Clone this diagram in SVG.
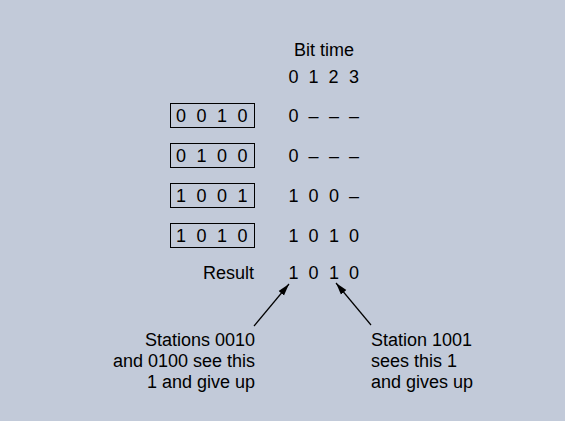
<svg xmlns="http://www.w3.org/2000/svg" width="565" height="421" viewBox="0 0 565 421">
<defs>
<style>
text{font-family:"Liberation Sans",Arial,sans-serif;font-size:18px;fill:#000}
.m{text-anchor:middle}
.r{text-anchor:end}
.box{fill:none;stroke:#000;stroke-width:1}
.conn{stroke:#000;stroke-width:1.2;fill:none}
</style>
<marker id="ah" viewBox="0 0 12 10" refX="12" refY="5" markerWidth="12" markerHeight="10" markerUnits="userSpaceOnUse" orient="auto">
<path d="M0,1.5 L12,5 L0,8.5 Z" fill="#000"/>
</marker>
</defs>
<rect width="565" height="421" fill="#c2cad9"/>
<g id="header">
<text x="324" y="56" class="m">Bit time</text>
<text x="293.5" y="83" class="m">0</text><text x="313.5" y="83" class="m">1</text><text x="333.5" y="83" class="m">2</text><text x="354" y="83" class="m">3</text>
</g>
<g id="station1">
<rect x="170.5" y="103.5" width="84" height="24" class="box"/>
<text x="181" y="122" class="m">0</text><text x="201.5" y="122" class="m">0</text><text x="222" y="122" class="m">1</text><text x="242.5" y="122" class="m">0</text>
<text x="293.5" y="122" class="m">0</text><text x="313.5" y="122" class="m">–</text><text x="334" y="122" class="m">–</text><text x="354" y="122" class="m">–</text>
</g>
<g id="station2">
<rect x="170.5" y="143.5" width="84" height="24" class="box"/>
<text x="181" y="162" class="m">0</text><text x="201.5" y="162" class="m">1</text><text x="222" y="162" class="m">0</text><text x="242.5" y="162" class="m">0</text>
<text x="293.5" y="162" class="m">0</text><text x="313.5" y="162" class="m">–</text><text x="334" y="162" class="m">–</text><text x="354" y="162" class="m">–</text>
</g>
<g id="station3">
<rect x="170.5" y="183.5" width="84" height="24" class="box"/>
<text x="181" y="202" class="m">1</text><text x="201.5" y="202" class="m">0</text><text x="222" y="202" class="m">0</text><text x="242.5" y="202" class="m">1</text>
<text x="293.5" y="202" class="m">1</text><text x="313.5" y="202" class="m">0</text><text x="334" y="202" class="m">0</text><text x="354" y="202" class="m">–</text>
</g>
<g id="station4">
<rect x="170.5" y="223.5" width="84" height="24" class="box"/>
<text x="181" y="242" class="m">1</text><text x="201.5" y="242" class="m">0</text><text x="222" y="242" class="m">1</text><text x="242.5" y="242" class="m">0</text>
<text x="293.5" y="242" class="m">1</text><text x="313.5" y="242" class="m">0</text><text x="334" y="242" class="m">1</text><text x="354" y="242" class="m">0</text>
</g>
<g id="result">
<text x="254" y="279" class="r">Result</text>
<text x="293.5" y="279" class="m">1</text><text x="313.5" y="279" class="m">0</text><text x="334" y="279" class="m">1</text><text x="354" y="279" class="m">0</text>
</g>
<g id="connectors">
<line x1="254" y1="326" x2="289" y2="284" class="conn" marker-end="url(#ah)"/>
<line x1="371" y1="325" x2="336" y2="283" class="conn" marker-end="url(#ah)"/>
</g>
<g id="note-left">
<text x="255" y="346" class="r">Stations 0010</text>
<text x="255" y="367" class="r">and 0100 see this</text>
<text x="255" y="388" class="r">1 and give up</text>
</g>
<g id="note-right">
<text x="371" y="346">Station 1001</text>
<text x="371" y="367">sees this 1</text>
<text x="371" y="388">and gives up</text>
</g>
</svg>
